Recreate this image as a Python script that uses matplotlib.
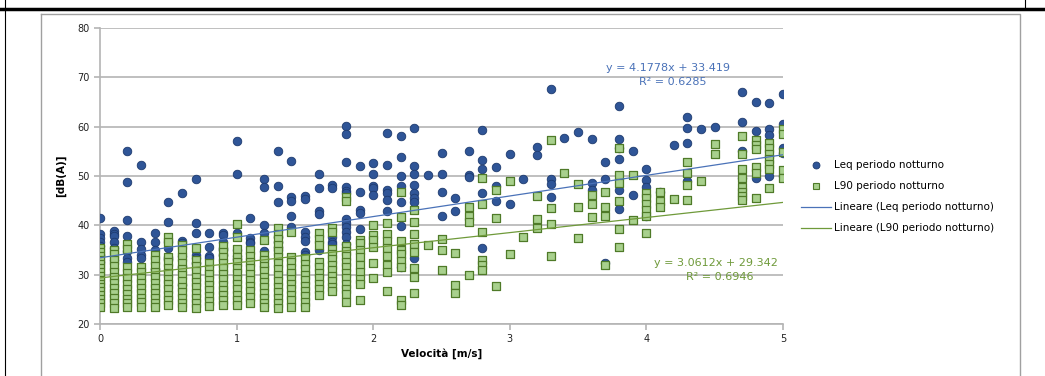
import numpy as np
import matplotlib
matplotlib.use("Agg")
import matplotlib.pyplot as plt
from matplotlib.lines import Line2D

# DATA
speeds = [0.0, 0.1, 0.2, 0.3, 0.4, 0.5, 0.6, 0.7, 0.8, 0.9,
          1.0, 1.1, 1.2, 1.3, 1.4, 1.5, 1.6, 1.7, 1.8, 1.9,
          2.0, 2.1, 2.2, 2.3, 2.4, 2.5, 2.6, 2.7, 2.8, 2.9,
          3.0, 3.1, 3.2, 3.3, 3.4, 3.5, 3.6, 3.7, 3.8, 3.9,
          4.0, 4.1, 4.2, 4.3, 4.4, 4.5, 4.6, 4.7, 4.8, 4.9, 5.0]

leq_night = [
    [41.4, 38.3, 37.5, 36.7, 35.8, 34.0, 32.5],
    [38.9, 38.3, 37.8, 36.6, 35.5, 33.0],
    [55.0, 48.7, 41.1, 37.8, 34.7, 33.3, 32.6],
    [52.3, 36.7, 35.2, 33.9, 33.3],
    [38.5, 36.7, 35.0, 31.1],
    [44.8, 40.7, 36.7, 35.5, 33.5, 33.2],
    [46.6, 36.8, 36.4, 33.8, 31.5, 28.0],
    [49.4, 40.4, 38.4, 34.0, 33.3, 32.3],
    [38.5, 35.7, 33.8, 33.3],
    [38.5, 38.0, 36.7, 35.5, 34.9, 34.0],
    [57.0, 50.4, 38.5, 35.1, 33.8, 33.2],
    [41.4, 37.5, 36.7, 36.4],
    [49.4, 47.7, 40.1, 38.5, 34.7, 33.0, 31.8],
    [55.0, 48.0, 44.7, 37.7, 36.7, 35.7, 35.0],
    [53.0, 45.7, 45.0, 41.8, 39.6, 30.3],
    [45.9, 45.3, 38.7, 37.7, 36.9, 34.5, 34.0],
    [50.4, 47.5, 43.0, 42.2, 34.9],
    [48.2, 47.5, 37.7, 36.7, 36.2],
    [60.1, 58.5, 52.9, 47.7, 47.0, 46.5, 41.2, 40.4, 39.7, 38.7, 37.7, 36.2],
    [52.0, 46.8, 43.1, 42.5, 39.2],
    [52.7, 50.5, 48.0, 47.5, 46.1],
    [58.8, 52.2, 47.2, 46.6, 45.1, 43.0],
    [58.1, 53.9, 49.9, 48.0, 44.8, 39.9, 31.6],
    [59.8, 52.0, 50.4, 48.2, 46.5, 45.5, 44.8, 33.3],
    [50.2],
    [54.7, 50.5, 46.8, 41.8],
    [45.5, 42.9],
    [55.1, 50.2, 49.7],
    [59.3, 53.2, 51.4, 46.5, 35.5],
    [51.9, 48.0, 45.0],
    [54.5, 44.3],
    [49.3],
    [55.9, 54.2],
    [67.6, 49.3, 48.4, 45.8],
    [57.8],
    [59.0],
    [57.4, 48.5, 47.2],
    [52.9, 49.3, 32.4],
    [64.1, 57.6, 55.6, 53.5, 47.2, 43.4],
    [55.1, 46.1],
    [51.4, 49.2, 47.7, 41.8],
    [46.8],
    [56.3],
    [62.0, 59.7, 56.6, 48.9],
    [59.5],
    [60.0],
    [],
    [67.0, 61.0, 55.0, 49.5],
    [64.9, 59.1, 49.5],
    [64.7, 59.5, 58.4, 49.9],
    [66.6, 60.5, 55.6, 54.7, 50.0],
]

l90_night = [
    [35.5, 34.6, 33.8, 33.0, 32.2, 31.4, 30.6, 29.8, 29.0, 28.2, 27.4, 26.6, 25.8, 25.0, 24.2, 23.5],
    [35.1, 34.2, 33.0, 31.8, 30.6, 29.5, 28.4, 27.3, 26.2, 25.2, 24.2, 23.2],
    [36.2, 35.2, 31.5, 30.4, 29.3, 28.2, 27.1, 26.0, 25.0, 24.2, 23.4],
    [31.6, 30.5, 29.4, 28.3, 27.2, 26.2, 25.3, 24.4, 23.5],
    [34.0, 33.0, 31.8, 30.6, 29.5, 28.4, 27.3, 26.2, 25.2, 24.3, 23.5],
    [37.7, 36.7, 33.6, 32.5, 31.4, 30.3, 29.2, 28.1, 27.0, 25.9, 24.9, 23.9],
    [36.0, 35.0, 33.6, 32.4, 31.2, 30.0, 28.8, 27.6, 26.4, 25.2, 24.2, 23.5],
    [35.5, 32.9, 31.8, 30.7, 29.6, 28.5, 27.4, 26.3, 25.2, 24.2, 23.2],
    [32.3, 31.2, 30.1, 29.0, 27.9, 26.8, 25.7, 24.6, 23.6],
    [35.8, 34.6, 33.5, 32.4, 31.3, 30.2, 29.1, 28.0, 26.9, 25.8, 24.8, 23.9],
    [40.2, 37.7, 35.3, 33.6, 32.5, 31.4, 30.3, 29.2, 28.1, 27.0, 25.9, 24.8, 23.9],
    [35.0, 33.8, 32.6, 31.4, 30.2, 29.0, 27.8, 26.6, 25.4, 24.2],
    [37.0, 34.0, 32.9, 31.8, 30.7, 29.6, 28.5, 27.4, 26.3, 25.2, 24.2, 23.5],
    [39.4, 38.3, 37.2, 36.0, 34.8, 33.6, 32.4, 31.2, 30.0, 28.8, 27.6, 26.4, 25.2, 24.2, 23.2],
    [38.7, 33.6, 32.5, 31.4, 30.3, 29.2, 28.1, 27.0, 25.9, 24.8, 23.5],
    [33.3, 32.2, 31.1, 30.0, 28.9, 27.8, 26.7, 25.6, 24.5, 23.5],
    [38.4, 37.3, 36.0, 32.6, 31.5, 30.4, 29.3, 28.2, 27.1, 25.9],
    [39.4, 38.7, 35.3, 34.2, 33.1, 32.0, 30.9, 29.8, 28.7, 27.6, 26.6],
    [45.8, 45.0, 35.9, 34.8, 33.7, 32.6, 31.5, 30.4, 29.3, 28.2, 27.1, 26.0, 24.5],
    [37.0, 36.5, 35.0, 33.5, 32.0, 30.5, 29.2, 28.2, 24.9],
    [40.1, 38.0, 37.0, 35.7, 32.3, 29.3],
    [40.5, 38.2, 36.8, 35.4, 33.7, 32.0, 30.6, 26.6],
    [46.8, 41.6, 36.8, 35.1, 34.1, 32.7, 31.6, 24.9, 23.9],
    [43.1, 40.7, 38.2, 36.2, 34.5, 31.3, 29.6, 26.2],
    [36.0],
    [37.2, 35.1, 31.0],
    [34.3, 27.9, 26.2],
    [43.8, 41.9, 40.7, 30.0],
    [49.5, 44.3, 38.7, 33.0, 32.0, 31.0],
    [47.2, 41.4, 27.7],
    [49.0, 34.2],
    [37.7],
    [46.0, 41.2, 39.4],
    [57.2, 43.6, 40.3, 33.8],
    [50.7],
    [48.4, 43.8, 37.4],
    [46.1, 44.3, 41.6],
    [46.8, 43.8, 41.9, 32.0],
    [55.6, 50.3, 48.5, 45.0, 39.3, 35.7],
    [50.2, 41.1],
    [46.5, 45.5, 44.4, 43.2, 41.9, 38.4],
    [46.8, 45.0, 43.8],
    [45.3],
    [52.9, 50.7, 48.2, 45.1],
    [48.9],
    [56.5, 54.5],
    [],
    [58.1, 54.5, 51.4, 49.5, 47.7, 46.8, 46.0, 45.1],
    [57.3, 56.3, 55.4, 51.8, 50.7, 45.6],
    [56.7, 55.6, 54.5, 53.5, 52.4, 51.4, 47.6],
    [59.5, 58.5, 54.9, 51.2, 49.5],
]

# linear trend coefficients as printed on the chart
leq_fit = (4.1778, 33.419, 0.6285)
l90_fit = (3.0612, 29.342, 0.6946)

def flatten(groups):
    xs, ys = [], []
    for v, vals in zip(speeds, groups):
        for y in vals:
            xs.append(v)
            ys.append(y)
    return np.array(xs), np.array(ys)

leq_x, leq_y = flatten(leq_night)
l90_x, l90_y = flatten(l90_night)

plt.rcParams['font.family'] = ['DejaVu Sans']

fig = plt.figure(figsize=(10.45, 3.76), dpi=100)
ax = fig.add_axes([100/1045, 1-324/376, 683/1045, 296/376])

grid_c = '#b4b4b4'
ax.set_xlim(0, 5)
ax.set_ylim(20, 80)
ax.set_yticks([20, 30, 40, 50, 60, 70, 80])
ax.set_xticks([0, 1, 2, 3, 4, 5])
ax.grid(axis='y', color=grid_c, lw=1.2, zorder=0)
for s in ['top', 'right']:
    ax.spines[s].set_visible(False)
ax.spines['left'].set_color(grid_c)
ax.spines['bottom'].set_color(grid_c)
ax.spines['left'].set_linewidth(1.2)
ax.spines['bottom'].set_linewidth(1.2)
ax.tick_params(axis='both', colors=grid_c, labelcolor='#222222', labelsize=7,
               length=4, width=1.2)

blue_fill = '#2f5597'
blue_edge = '#1d3a6e'
green_fill = '#a8d08d'
green_edge = '#4f7a28'

ax.scatter(leq_x, leq_y, s=38, marker='o', c=blue_fill, edgecolors=blue_edge,
           linewidths=0.6, zorder=3, label='Leq periodo notturno')
ax.scatter(l90_x, l90_y, s=38, marker='s', c=green_fill, edgecolors=green_edge,
           linewidths=0.9, zorder=4, label='L90 periodo notturno')

xl = np.array([0, 5])
ax.plot(xl, leq_fit[0]*xl + leq_fit[1], color='#4a72b8', lw=0.9, zorder=5,
        label='Lineare (Leq periodo notturno)')
ax.plot(xl, l90_fit[0]*xl + l90_fit[1], color='#6f9a3a', lw=0.9, zorder=5,
        label='Lineare (L90 periodo notturno)')

ax.text(4.16, 71.9, 'y = %.4fx + %.3f' % (leq_fit[0], leq_fit[1]), color='#4a72b8',
        fontsize=8, ha='center', va='center', zorder=6)
ax.text(4.19, 69.1, 'R² = %.4f' % leq_fit[2], color='#4a72b8',
        fontsize=8, ha='center', va='center', zorder=6)
ax.text(4.51, 32.4, 'y = %.4fx + %.3f' % (l90_fit[0], l90_fit[1]), color='#6f9a3a',
        fontsize=8, ha='center', va='center', zorder=6)
ax.text(4.54, 29.6, 'R² = %.4f' % l90_fit[2], color='#6f9a3a',
        fontsize=8, ha='center', va='center', zorder=6)

ax.set_xlabel('Velocità [m/s]', fontsize=7.5, fontweight='bold', labelpad=3)
ax.set_ylabel('[dB(A)]', fontsize=7.5, fontweight='bold', labelpad=8)

handles = [
    Line2D([], [], marker='o', ls='none', markersize=5, markerfacecolor=blue_fill,
           markeredgecolor=blue_edge, markeredgewidth=0.6),
    Line2D([], [], marker='s', ls='none', markersize=5, markerfacecolor=green_fill,
           markeredgecolor=green_edge, markeredgewidth=0.8),
    Line2D([], [], color='#4a72b8', lw=0.9),
    Line2D([], [], color='#6f9a3a', lw=0.9),
]
labels = ['Leq periodo notturno', 'L90 periodo notturno',
          'Lineare (Leq periodo notturno)', 'Lineare (L90 periodo notturno)']
fig.legend(handles, labels, loc='upper left', bbox_to_anchor=(792/1045, 1-151/376),
           frameon=False, fontsize=7.5, handlelength=2.8, labelspacing=1.05,
           handletextpad=0.3)

# page frame around the chart
fig.add_artist(Line2D([0, 1], [1-9/376, 1-9/376], color='black', lw=2.5))
fig.add_artist(Line2D([5/1045, 5/1045], [0, 1], color='black', lw=0.8))
fig.add_artist(Line2D([1025/1045, 1025/1045], [1-9/376, 1], color='black', lw=0.8))
fig.add_artist(Line2D([41/1045, 1020/1045, 1020/1045], [1-14/376, 1-14/376, 0],
                      color='#a0a0a0', lw=1.0))
fig.add_artist(Line2D([41/1045, 41/1045], [0, 1-14/376], color='#a0a0a0', lw=1.0))

fig.savefig('out.png', dpi=100)
